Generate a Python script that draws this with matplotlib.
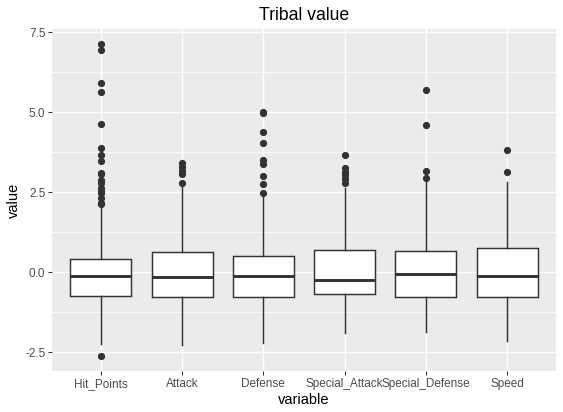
import matplotlib
matplotlib.use("Agg")
import matplotlib.pyplot as plt
import numpy as np

categories = ["Hit_Points", "Attack", "Defense", "Special_Attack", "Special_Defense", "Speed"]
q1 = [-0.74, -0.76, -0.77, -0.69, -0.78, -0.78]
medians = [-0.12, -0.135, -0.125, -0.23, -0.06, -0.10]
q3 = [0.41, 0.625, 0.51, 0.69, 0.66, 0.75]
whislo = [-2.25, -2.27, -2.20, -1.89, -1.85, -2.14]
whishi = [2.14, 2.70, 2.46, 2.63, 2.81, 2.81]
fliers = [
    [7.13, 6.93, 5.91, 5.63, 4.63, 3.875, 3.68, 3.49, 3.10, 3.07, 2.88, 2.78,
     2.62, 2.55, 2.47, 2.33, 2.18, 2.15, -2.61],
    [3.43, 3.30, 3.18, 3.07, 2.78],
    [5.0, 4.99, 4.39, 4.03, 3.51, 3.39, 3.01, 2.75, 2.49],
    [3.66, 3.25, 3.15, 3.04, 2.92, 2.78],
    [5.68, 4.59, 3.17, 2.95],
    [3.82, 3.125],
]
y_ticks = [-2.5, 0.0, 2.5, 5.0, 7.5]
y_ticklabels = ["-2.5", "0.0", "2.5", "5.0", "7.5"]

plt.rcParams["font.family"] = ["Liberation Sans", "DejaVu Sans"]

dpi = 96
fig = plt.figure(figsize=(563 / dpi, 412 / dpi), dpi=dpi)
ax = fig.add_axes([52 / 563, 1 - 371 / 412, (556 - 52) / 563, (371 - 29) / 412])
ax.set_facecolor("#EBEBEB")

stats = []
for i, c in enumerate(categories):
    stats.append(dict(label=c, q1=q1[i], med=medians[i], q3=q3[i],
                      whislo=whislo[i], whishi=whishi[i], fliers=fliers[i]))

positions = np.arange(1, len(categories) + 1)
line_col = "#333333"
ax.bxp(stats, positions=positions, widths=0.75, patch_artist=True,
       showcaps=False,
       boxprops=dict(facecolor="white", edgecolor=line_col, linewidth=1.1),
       medianprops=dict(color=line_col, linewidth=2.2, solid_capstyle="butt"),
       whiskerprops=dict(color=line_col, linewidth=1.1),
       flierprops=dict(marker="o", markerfacecolor=line_col, markeredgecolor=line_col,
                       markersize=4.4, linestyle="none"),
       zorder=3)

ax.set_xlim(0.4, 6.6)
ax.set_ylim(-3.08, 7.60)

# grid
for y in np.arange(-3.75, 8.0, 1.25):
    major = any(abs(y - t) < 1e-9 for t in y_ticks)
    ax.axhline(y, color="white", linewidth=1.1 if major else 0.55, zorder=1)
for x in positions:
    ax.axvline(x, color="white", linewidth=1.1, zorder=1)

ax.set_yticks(y_ticks)
ax.set_yticklabels(y_ticklabels)
ax.set_xticks(positions)
ax.set_xticklabels(categories)
ax.tick_params(axis="both", colors="#333333", length=2.75, width=0.8,
               labelsize=8.8, labelcolor="#4D4D4D", pad=2.2)
for s in ax.spines.values():
    s.set_visible(False)

ax.set_xlabel("variable", fontsize=11, color="black", labelpad=2.5)
ax.set_ylabel("value", fontsize=11, color="black", labelpad=3)
ax.set_title("Tribal value", fontsize=13.2, color="black", pad=6.5)

fig.savefig("out.png", dpi=dpi, facecolor="white")
